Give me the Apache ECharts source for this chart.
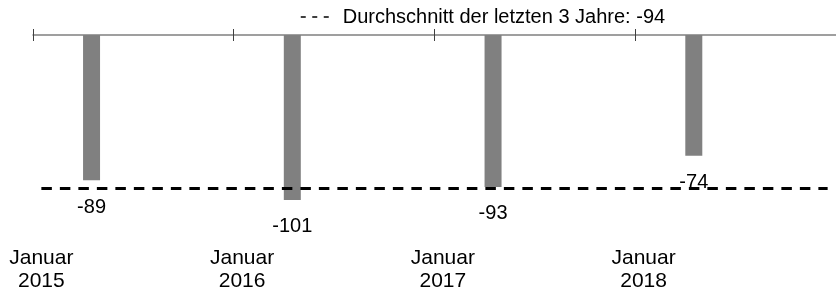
<!DOCTYPE html>
<html>
<head>
<meta charset="utf-8">
<script src="https://cdn.jsdelivr.net/npm/echarts@6/dist/echarts.min.js"></script>
<style>
html,body{margin:0;padding:0;background:#fff;}
#chart{width:836px;height:293px;}
</style>
</head>
<body>
<div id="chart"></div>
<script>
// ---- data ----
const years = ['2015', '2016', '2017', '2018'];
const tickMonthLabel = 'Januar';
const values = [-89, -101, -93, -74];   // one value per year
const valueMonthIndex = 3;              // value sits at April of each year
const averageValue = -94;
const averageName = 'Durchschnitt der letzten 3 Jahre: -94';

// ---- build monthly categories ----
const months = [];
years.forEach(function (y) {
  for (let m = 1; m <= 12; m++) months.push(y + '-' + m);
});
const barData = months.map(function (c, i) {
  return (i % 12 === valueMonthIndex) ? values[Math.floor(i / 12)] : '-';
});
const avgData = months.map(function () { return averageValue; });

const FONT = 'Arial, "Liberation Sans", sans-serif';

const chart = echarts.init(document.getElementById('chart'), null, {renderer: 'canvas'});
chart.setOption({
  animation: false,
  backgroundColor: '#fff',
  textStyle: {fontFamily: FONT},
  legend: {
    data: [averageName],
    left: 295,
    top: 2,
    itemWidth: 34,
    itemHeight: 14,
    textStyle: {fontSize: 20, color: '#000', fontFamily: FONT, padding: [0, 0, 0, 3]},
    lineStyle: {color: '#000', width: 1.5, type: [5, 6.5]},
    itemStyle: {opacity: 0}
  },
  grid: {left: 33, top: 35, width: 807, height: 197.4, containLabel: false},
  xAxis: [
    {
      type: 'category', data: months, position: 'top', boundaryGap: true,
      axisLine: {show: true, lineStyle: {color: '#808080', width: 1.5}},
      axisTick: {show: true, interval: 11, length: 6, inside: false, lineStyle: {color: '#404040', width: 1}},
      axisLabel: {show: false}, splitLine: {show: false}
    },
    {
      type: 'category', data: months, position: 'top', boundaryGap: true,
      axisLine: {show: false},
      axisTick: {show: true, interval: 11, length: 6, inside: true, lineStyle: {color: '#404040', width: 1}},
      axisLabel: {show: false}, splitLine: {show: false}
    },
    {
      type: 'category', data: months, position: 'bottom', boundaryGap: true,
      axisLine: {show: false, onZero: false},
      axisTick: {show: false},
      axisLabel: {
        show: true, interval: 11, margin: 16,
        fontSize: 21, lineHeight: 23, color: '#000', fontFamily: FONT,
        formatter: function (v) { return tickMonthLabel + '\n' + v.split('-')[0]; }
      },
      splitLine: {show: false}
    }
  ],
  yAxis: {
    type: 'value', min: -120, max: 0, show: false,
    splitLine: {show: false}
  },
  series: [
    {
      type: 'bar', xAxisIndex: 0, data: barData, barWidth: 17,
      itemStyle: {color: '#808080'},
      label: {show: true, position: 'bottom', distance: 17, fontSize: 20, color: '#000', fontFamily: FONT},
      z: 2
    },
    {
      name: averageName, type: 'line', xAxisIndex: 0, data: avgData,
      symbol: 'none', showSymbol: false,
      itemStyle: {color: '#000'},
      lineStyle: {color: '#000', width: 3, type: [10.5, 8]},
      z: 5, silent: true
    }
  ]
});
</script>
</body>
</html>
